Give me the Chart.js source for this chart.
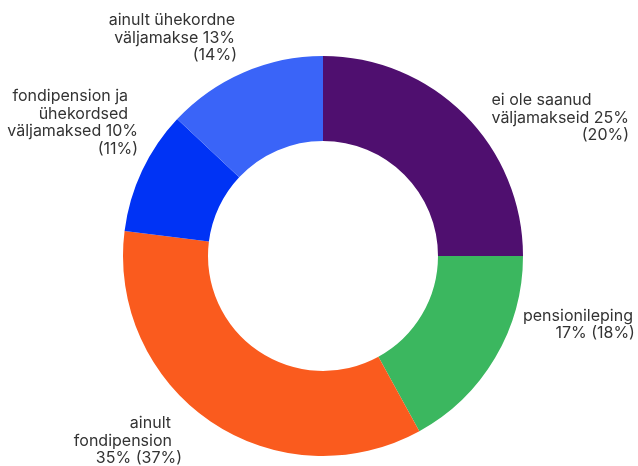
<!DOCTYPE html>
<html>
<head>
<meta charset="utf-8">
<script src="https://cdn.jsdelivr.net/npm/chart.js@4"></script>
<style>
html,body{margin:0;padding:0;background:#fff;}
#wrap{width:638px;height:466px;position:relative;}
</style>
</head>
<body>
<div id="wrap"><canvas id="c" width="638" height="466"></canvas></div>
<script>
const categories = ["ei ole saanud väljamakseid", "pensionileping", "ainult fondipension", "fondipension ja ühekordsed väljamaksed", "ainult ühekordne väljamakse"];
const shares = [25, 17, 35, 10, 13];
const previousShares = [20, 18, 37, 11, 14];
const labelLines = [
  ["ei ole saanud", "väljamakseid 25%", "(20%)"],
  ["pensionileping", "17% (18%)"],
  ["ainult", "fondipension", "35% (37%)"],
  ["fondipension ja", "ühekordsed", "väljamaksed 10%", "(11%)"],
  ["ainult ühekordne", "väljamakse 13%", "(14%)"]
];
const colors = ["#4f0f6f", "#3bb75f", "#fa5b1e", "#0033f5", "#3a64f8"];

// layout of label blocks relative to arc outer mid-point
const labelLayout = [
  {dx: 164.6, dy: -9.6, align: ["left", "left", "right"], shift: [0, 0, 0]},
  {dx: 139.8, dy: -37.3, align: ["right", "right"], shift: [-2, 0]},
  {dx: -28.6, dy: 6.6, align: ["right", "right", "right"], shift: [-11, -10, 0]},
  {dx: -4, dy: -69.8, align: ["right", "right", "right", "right"], shift: [-10, -10, 0, 0]},
  {dx: -6.6, dy: -47.4, align: ["right", "right", "right"], shift: [-2, -2, 0]}
];

const labelPlugin = {
  id: 'outLabels',
  afterDatasetsDraw(chart) {
    const ctx = chart.ctx;
    const meta = chart.getDatasetMeta(0);
    ctx.save();
    ctx.font = '16px Inter';
    ctx.fillStyle = '#333333';
    ctx.textBaseline = 'alphabetic';
    const lh = 17.7;
    meta.data.forEach((arc, i) => {
      const p = arc.getProps(['x', 'y', 'startAngle', 'endAngle', 'outerRadius'], true);
      const mid = (p.startAngle + p.endAngle) / 2;
      const ax = p.x + Math.cos(mid) * p.outerRadius;
      const ay = p.y + Math.sin(mid) * p.outerRadius;
      const L = labelLayout[i];
      const lines = labelLines[i];
      const right = ax + L.dx;
      const maxW = Math.max(...lines.map(t => ctx.measureText(t).width));
      const left = right - maxW;
      lines.forEach((t, j) => {
        const y = ay + L.dy + j * lh;
        if (L.align[j] === 'left') {
          ctx.textAlign = 'left';
          ctx.fillText(t, left + L.shift[j], y);
        } else {
          ctx.textAlign = 'right';
          ctx.fillText(t, right + L.shift[j], y);
        }
      });
    });
    ctx.restore();
  }
};

new Chart(document.getElementById('c'), {
  type: 'doughnut',
  data: {
    labels: categories,
    datasets: [{
      data: shares,
      backgroundColor: colors,
      borderWidth: 0
    }]
  },
  options: {
    responsive: false,
    animation: false,
    cutout: '57.5%',
    layout: {padding: {left: 123, right: 115, top: 56, bottom: 10}},
    plugins: {legend: {display: false}, tooltip: {enabled: false}}
  },
  plugins: [labelPlugin]
});
</script>
</body>
</html>
